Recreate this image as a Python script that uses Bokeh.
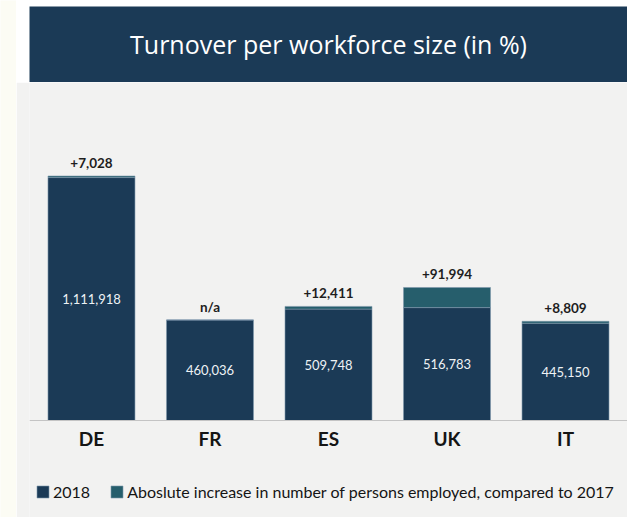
from bokeh.plotting import figure
from bokeh.models import ColumnDataSource, Range1d, FactorRange, Legend, LegendItem, Span
from bokeh.layouts import row, column
from bokeh.embed import file_html
from bokeh.resources import INLINE
from bokeh.core.properties import value

countries = ["DE", "FR", "ES", "UK", "IT"]
employed_2018 = [1111918, 460036, 509748, 516783, 445150]
increase_vs_2017 = [7028, None, 12411, 91994, 8809]

title_text = "Turnover per workforce size (in %)"
legend_2018 = "2018"
legend_inc = "Aboslute increase in number of persons employed, compared to 2017"

NAVY = "#1b3a56"
TEAL = "#265e6c"
GREY = "#f2f2f1"
STRIP = "#fcfcf4"

inc_vals = [v if v is not None else 0 for v in increase_vs_2017]
tops = [a + b for a, b in zip(employed_2018, inc_vals)]
src = ColumnDataSource(dict(
    country=countries,
    base=employed_2018,
    top=tops,
    zero=[0] * len(countries),
    mid=[v / 2 for v in employed_2018],
    base_label=[f"{v:,}" for v in employed_2018],
    inc_label=[f"+{v:,}" if v is not None else "n/a" for v in increase_vs_2017],
))

# left off-white strip
strip = figure(width=16, height=517, output_backend="svg", toolbar_location=None,
               min_border=0, x_axis_location=None, y_axis_location=None)
strip.outline_line_color = None
strip.background_fill_color = STRIP
strip.border_fill_color = STRIP
strip.grid.visible = False

# title banner
banner = figure(width=611, height=82, output_backend="svg", toolbar_location=None,
                min_border=0, min_border_top=6,
                x_range=Range1d(0, 1), y_range=Range1d(0, 1),
                x_axis_location=None, y_axis_location=None)
banner.outline_line_color = None
banner.background_fill_color = NAVY
banner.border_fill_color = "#ffffff"
banner.grid.visible = False
banner.text(x=[0.5], y=[0.5], text=[title_text], text_align="center",
            text_baseline="middle", text_color="#ffffff", y_offset=-1,
            text_font=value("Open Sans"), text_font_size="25px")

# main chart
p = figure(width=611, height=435, output_backend="svg", toolbar_location=None,
           x_range=FactorRange(*countries, range_padding=0.0092),
           y_range=Range1d(-444000, 1547000),
           min_border_left=13, min_border_right=0, min_border_top=0,
           min_border_bottom=0, x_axis_location=None, y_axis_location=None)
p.outline_line_color = None
p.background_fill_color = GREY
p.border_fill_color = GREY
p.grid.visible = False

r1 = p.vbar(x="country", bottom=0, top="base", width=0.734, source=src,
            fill_color=NAVY, line_color="#7d97ab", line_width=0.6)
r2 = p.vbar(x="country", bottom="base", top="top", width=0.734, source=src,
            fill_color=TEAL, line_color="#7d97ab", line_width=0.6)

p.add_layout(Span(location=0, dimension="width", line_color="#c4c4c4", line_width=1.2))

p.text(x="country", y="mid", text="base_label", source=src, text_align="center",
       text_baseline="middle", text_color="#eef2f5",
       text_font=value("Lato"), text_font_size="13px")
p.text(x="country", y="top", text="inc_label", source=src, text_align="center",
       text_baseline="middle", y_offset=-13, text_color="#1e1e1e",
       text_font=value("Lato"), text_font_style="bold", text_font_size="13.5px")
# category labels under the baseline
p.text(x="country", y="zero", text="country", source=src, text_align="center",
       text_baseline="middle", y_offset=18, text_color="#151515",
       text_font=value("Lato"), text_font_style="bold", text_font_size="19px")

legend = Legend(items=[LegendItem(label=legend_2018, renderers=[r1]),
                       LegendItem(label=legend_inc, renderers=[r2])],
                orientation="horizontal", location=(6, 16), margin=0, padding=0,
                glyph_width=15, glyph_height=15, label_standoff=3, spacing=19,
                label_text_font="Lato", label_text_font_size="16px",
                label_text_color="#151515", background_fill_alpha=0,
                border_line_color=None)
p.add_layout(legend, "center")

layout = row(strip, column(banner, p, spacing=0), spacing=0)
open("out.html", "w").write(file_html(layout, INLINE))
